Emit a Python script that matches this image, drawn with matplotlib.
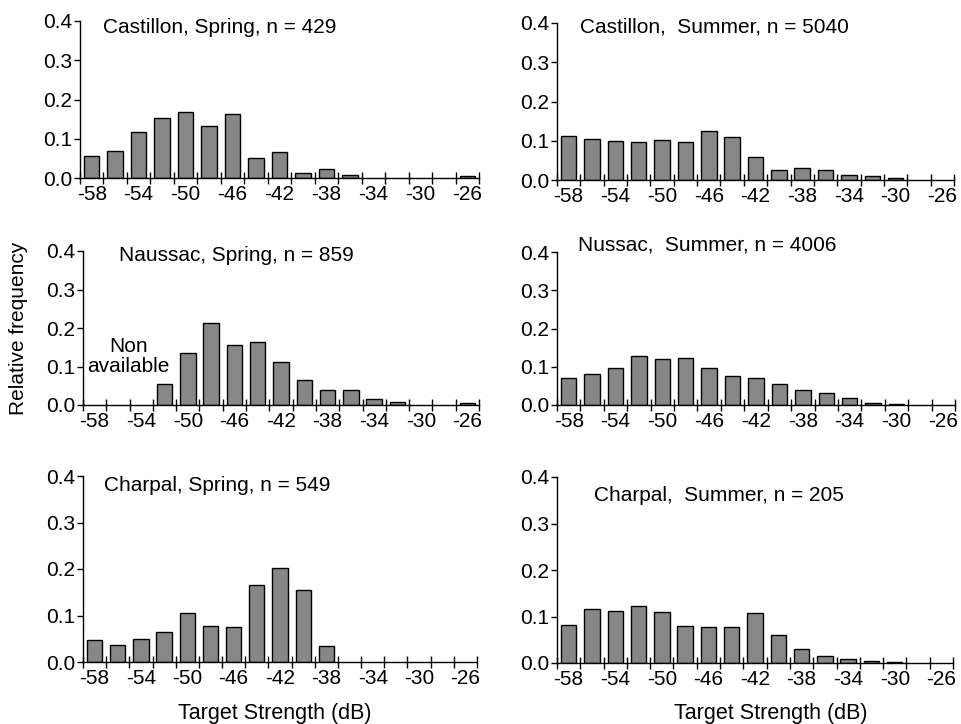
import numpy as np
import matplotlib
matplotlib.use("Agg")
import matplotlib.pyplot as plt
from matplotlib.ticker import FixedLocator, FormatStrFormatter

plt.rcParams['font.family'] = ['Liberation Sans', 'DejaVu Sans']

# 2 dB target strength classes
ts_bins = [-58, -56, -54, -52, -50, -48, -46, -44, -42, -40, -38, -36, -34, -32, -30, -28, -26]
ts_labels = [-58, -54, -50, -46, -42, -38, -34, -30, -26]

castillon_spring = [0.057, 0.068, 0.116, 0.154, 0.167, 0.132, 0.163, 0.050, 0.065, 0.014, 0.023, 0.007, 0, 0, 0, 0, 0.005]
castillon_summer = [0.112, 0.104, 0.100, 0.096, 0.102, 0.098, 0.125, 0.109, 0.059, 0.025, 0.030, 0.025, 0.012, 0.010, 0.004, 0, 0]
naussac_spring = [0, 0, 0, 0.054, 0.134, 0.212, 0.155, 0.163, 0.111, 0.065, 0.039, 0.039, 0.016, 0.008, 0, 0, 0.004]
naussac_summer = [0.071, 0.081, 0.098, 0.128, 0.121, 0.122, 0.098, 0.075, 0.070, 0.054, 0.038, 0.031, 0.017, 0.005, 0.003, 0, 0]
charpal_spring = [0.048, 0.037, 0.049, 0.065, 0.106, 0.078, 0.076, 0.166, 0.202, 0.155, 0.034, 0, 0, 0, 0, 0, 0]
charpal_summer = [0.081, 0.117, 0.112, 0.122, 0.109, 0.079, 0.078, 0.077, 0.107, 0.061, 0.031, 0.015, 0.008, 0.004, 0.002, 0, 0]

panels = [
    (castillon_spring, "Castillon, Spring, n = 429", [80, 479, 21, 178], (0.058, 0.96)),
    (castillon_summer, "Castillon,  Summer, n = 5040", [557, 954, 23, 180], (0.058, 0.975)),
    (naussac_spring, "Naussac, Spring, n = 859", [83, 479, 251, 405], (0.091, 0.974)),
    (naussac_summer, "Nussac,  Summer, n = 4006", [557, 955, 252, 405], (0.053, 1.045)),
    (charpal_spring, "Charpal, Spring, n = 549", [83, 477, 476, 662], (0.053, 0.95)),
    (charpal_summer, "Charpal,  Summer, n = 205", [557, 953, 477, 663], (0.093, 0.903)),
]

W, H = 962, 724
fig = plt.figure(figsize=(W / 100, H / 100), dpi=100)

axes = []
for vals, title, (x0, x1, y1, y0), (tx, ty) in panels:
    ax = fig.add_axes([x0 / W, 1 - y0 / H, (x1 - x0) / W, (y0 - y1) / H])
    vals = np.array(vals)
    mask = vals > 0
    ax.bar(np.array(ts_bins)[mask], vals[mask], width=1.32, color="#878787",
           edgecolor="black", linewidth=1.0, zorder=2)
    ax.set_xlim(-59, -25)
    ax.set_ylim(0, 0.4)
    for s in ["top", "right"]:
        ax.spines[s].set_visible(False)
    ax.spines["left"].set_linewidth(1.0)
    ax.spines["bottom"].set_linewidth(1.0)
    ax.set_yticks([0, 0.1, 0.2, 0.3, 0.4])
    ax.yaxis.set_major_formatter(FormatStrFormatter("%.1f"))
    ax.set_xticks(ts_labels)
    ax.set_xticklabels([str(v) for v in ts_labels])
    ax.xaxis.set_minor_locator(FixedLocator(np.arange(-59, -24, 2)))
    ax.tick_params(axis="x", which="major", length=0, pad=5, labelsize=15)
    ax.tick_params(axis="x", which="minor", direction="inout", length=8, width=1.0)
    ax.tick_params(axis="y", direction="out", length=4, width=1.0, pad=1.5, labelsize=15)
    ax.text(tx, ty, title, transform=ax.transAxes, ha="left", va="center", fontsize=15)
    axes.append(ax)

axes[2].text(-55.1, 0.125, "Non\navailable", ha="center", va="center", fontsize=15,
             linespacing=1.05)

fig.text(19 / W, 1 - 328 / H, "Relative frequency", rotation=90, ha="center", va="center", fontsize=15)
fig.text(275 / W, 1 - 714 / H, "Target Strength (dB)", ha="center", va="center", fontsize=15.5)
fig.text(771 / W, 1 - 714 / H, "Target Strength (dB)", ha="center", va="center", fontsize=15.5)

fig.savefig("out.png", dpi=100)
